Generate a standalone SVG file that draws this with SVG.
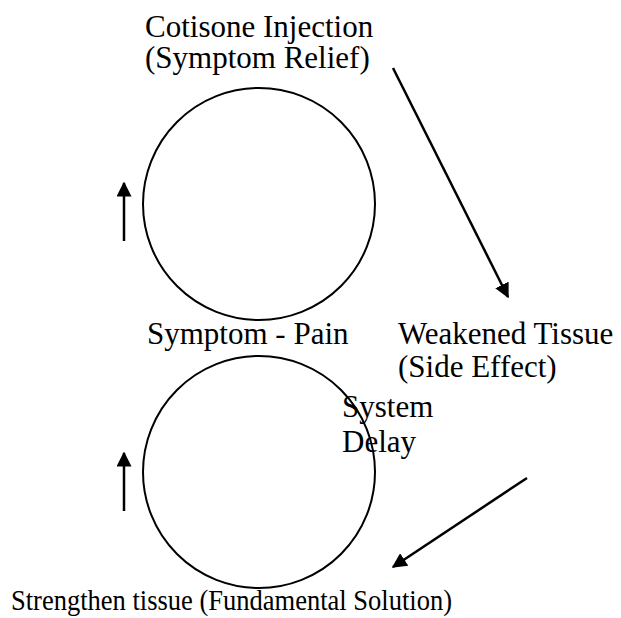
<svg xmlns="http://www.w3.org/2000/svg" width="621" height="618" viewBox="0 0 621 618">
<style>
text { font-family: "Liberation Serif", "Times New Roman", serif; font-size: 31px; fill: #000; }
.narrow { font-size: 29.5px; }
.loop { fill: none; stroke: #000; stroke-width: 2; }
.conn { stroke: #000; stroke-width: 2.5; fill: none; }
</style>
<defs>
<marker id="ah" viewBox="0 0 10 10" refX="9" refY="5" markerWidth="6" markerHeight="6" markerUnits="strokeWidth" orient="auto">
<path d="M0,0 L10,5 L0,10 Z" fill="#000"/>
</marker>
</defs>
<rect width="621" height="618" fill="#fff"/>
<g id="loop-top"><circle class="loop" cx="259" cy="204" r="116"/></g>
<g id="loop-bottom"><circle class="loop" cx="259" cy="472" r="116"/></g>
<g id="node-cortisone"><text x="145" y="37">Cotisone Injection</text><text x="145" y="68">(Symptom Relief)</text></g>
<g id="node-symptom"><text x="147" y="344">Symptom - Pain</text></g>
<g id="node-weakened"><text x="398" y="344">Weakened Tissue</text><text x="398" y="377">(Side Effect)</text></g>
<g id="node-delay"><text x="342" y="417">System</text><text x="342" y="452">Delay</text></g>
<g id="node-strengthen"><text class="narrow" x="11" y="610" textLength="441" lengthAdjust="spacingAndGlyphs">Strengthen tissue (Fundamental Solution)</text></g>
<g id="connectors">
<line class="conn" x1="393" y1="68" x2="508" y2="297" marker-end="url(#ah)"/>
<line class="conn" x1="527" y1="478" x2="393" y2="567" marker-end="url(#ah)"/>
<line class="conn" x1="124" y1="241" x2="124" y2="183" marker-end="url(#ah)"/>
<line class="conn" x1="124" y1="511" x2="124" y2="453" marker-end="url(#ah)"/>
</g>
</svg>
